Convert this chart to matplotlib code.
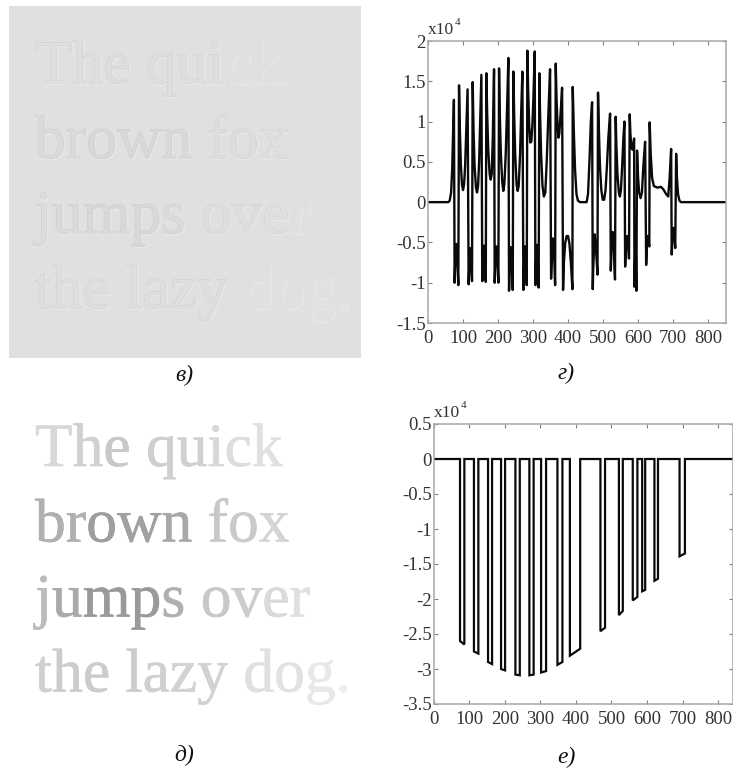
import matplotlib
matplotlib.use("Agg")
import matplotlib.pyplot as plt
import matplotlib.patheffects as pe
from matplotlib.font_manager import FontProperties

W, H = 733, 771
SERIF = ['Liberation Serif', 'DejaVu Serif']
plt.rcParams['font.family'] = SERIF

# ---------- data ----------
text_lines = ["The quick", "brown fox", "jumps over", "the lazy dog."]
shades = [
    ["#d8d8d8", "#d0d0d0", "#c8c8c8", "#ffffff", "#cfcfcf", "#d0d0d0", "#d8d8d8", "#dedede", "#e0e0e0"],
    ["#b0b0b0", "#b0b0b0", "#9e9e9e", "#a0a0a0", "#a8a8a8", "#ffffff", "#c8c8c8", "#cacaca", "#d4d4d4"],
    ["#bbbbbb", "#aaaaaa", "#9a9a9a", "#9a9a9a", "#b0b0b0", "#ffffff", "#c8c8c8", "#cccccc", "#dadada", "#e0e0e0"],
    ["#d0d0d0", "#cccccc", "#cccccc", "#ffffff", "#cccccc", "#d0d0d0", "#d2d2d2", "#d2d2d2", "#ffffff",
     "#e0e0e0", "#e2e2e2", "#e8e8e8", "#eeeeee"],
]

g_x = [0, 58, 62, 66, 69, 72, 74, 76, 77.5, 81, 84.5, 86.6, 88.6, 91, 94, 97, 100, 103, 106, 109,
       113, 116, 118, 121, 123.5, 125.7, 127.6, 130, 133, 137, 140, 143, 146, 149,
       152.4, 155, 157, 160, 163, 165, 166.7, 169, 172, 176, 179, 182, 185,
       188.6, 190.5, 192, 195.5, 199, 201, 202.9, 205, 208, 212, 215, 218, 222, 226,
       229.5, 231.4, 233, 236.5, 240, 242, 243.8, 246, 249, 253, 256, 259, 263, 266,
       269.5, 272.4, 274, 277, 280, 282, 283.8, 286, 289, 292, 295, 298, 301,
       304.8, 306.7, 308, 311, 314, 316, 318, 320, 323, 327, 331, 335, 339, 343,
       348.6, 351.5, 353, 357, 361, 363, 364.8, 367, 370, 372.5, 375, 378,
       382.9, 385.7, 388, 392, 396, 400, 404, 408, 412.4, 413.3, 417, 420, 424, 428, 434, 453,
       457, 461, 465, 468.6, 470.5, 472, 476, 480, 484, 485.5, 488, 491, 495, 499, 503, 507, 511, 515,
       520, 522, 524, 527.5, 531, 534, 536, 538, 541, 545, 548, 551, 555, 558,
       561, 563, 565, 568.5, 572, 574, 576, 578, 581, 584, 586, 588.6, 589.6, 592, 593.5, 595,
       597, 600, 603, 607, 611, 615, 620, 623, 625, 627, 630, 632, 633, 636, 640, 645, 655, 665, 672, 680, 686,
       690, 694.3, 696, 698, 701, 704, 706, 708.6, 711, 714, 718, 722, 850]
g_y = [0, 0, .02, .12, .4, .9, 1.27, -1.0, -.8, -.52, -.8, -1.03, 1.45, .9, .45, .22, .15, .22, .45, .85,
       1.40, -1.02, -.8, -.57, -.75, -.98, 1.49, .9, .45, .18, .12, .2, .5, 1.0,
       1.58, -.98, -.8, -.54, -.8, -.99, 1.6, 1.1, .65, .35, .28, .35, .8,
       1.65, -1.0, -.8, -.55, -.8, -1.0, 1.66, 1.1, .6, .25, .14, .22, .6, 1.2,
       1.79, -1.1, -.85, -.56, -.85, -1.09, 1.62, 1.1, .6, .22, .14, .2, .6, 1.1,
       1.62, -1.09, -.85, -.55, -.85, -1.03, 1.88, 1.4, .95, .74, .75, .95, 1.3,
       1.87, -1.03, -.8, -.53, -.8, -1.06, 1.6, 1.1, .6, .2, .07, .12, .5, 1.0,
       1.65, -.95, -.75, -.45, -.75, -1.03, 1.72, 1.3, .95, .8, .85, 1.05,
       1.42, -1.09, -.75, -.5, -.42, -.42, -.52, -.75, -1.08, 1.43, .8, .4, .1, .02, 0, 0,
       .1, .5, 1.0, 1.24, -1.08, -.8, -.4, -.6, -.9, 1.36, .9, .45, .15, .03, .03, .15, .45, .8,
       1.1, -.85, -.6, -.37, -.6, -.96, 1.06, .7, .35, .12, .07, .15, .5, .8,
       1.0, -.8, -.6, -.42, -.55, -.7, 1.09, .85, .68, .65, .7, .79, -1.05, -.6, -.6, -1.1,
       .64, .3, .12, .05, .12, .45, .75, -.78, -.55, -.42, -.5, -.55, .99, .6, .3, .2, .18, .19, .16, .1, .07,
       .3, .66, -.65, -.45, -.32, -.45, -.57, .6, .3, .1, .02, 0, 0]

e_fall = [73.8, 113, 152.7, 189.3, 229.7, 269, 302, 348, 383, 469, 521, 560, 586.5, 621, 691.7]
e_rise = [86, 125.4, 164, 200.6, 242, 281, 316, 362, 412, 482, 532, 573, 595, 631, 706.8]
e_start = [-2.6, -2.75, -2.9, -3.0, -3.08, -3.09, -3.05, -2.94, -2.81, -2.46, -2.23, -2.02, -1.89, -1.74, -1.39]
e_end = [-2.65, -2.78, -2.93, -3.02, -3.09, -3.08, -3.03, -2.9, -2.71, -2.41, -2.17, -1.97, -1.87, -1.71, -1.35]

g_yticks = [2, 1.5, 1, 0.5, 0, -0.5, -1, -1.5]
g_ylabels = ["2", "1.5", "1", "0.5", "0", "-0.5", "-1", "-1.5"]
e_yticks = [0.5, 0, -0.5, -1, -1.5, -2, -2.5, -3, -3.5]
e_ylabels = ["0.5", "0", "-0.5", "-1", "-1.5", "-2", "-2.5", "-3", "-3.5"]
xticks = [0, 100, 200, 300, 400, 500, 600, 700, 800]
captions = ["в)", "г)", "д)", "е)"]
# ---------- figure ----------
fig = plt.figure(figsize=(W / 100, H / 100), dpi=100, facecolor='white')
canvas_ax = fig.add_axes([0, 0, 1, 1])
canvas_ax.set_xlim(0, W)
canvas_ax.set_ylim(H, 0)
canvas_ax.axis('off')
renderer = fig.canvas.get_renderer()

FS = 44.3
fp = FontProperties(family=SERIF, size=FS)


def advance(s):
    w0 = renderer.get_text_width_height_descent('H', fp, False)[0]
    return renderer.get_text_width_height_descent('H' + s, fp, False)[0] - w0


def mix(c, bg, k):
    a = int(c[1:3], 16)
    b = int(bg[1:3], 16)
    v = int(round(b + (a - b) * k))
    return f"#{v:02x}{v:02x}{v:02x}"


def draw_lines(x0, baselines, embossed):
    for line, cols, yb in zip(text_lines, shades, baselines):
        for i, ch in enumerate(line):
            if ch == ' ':
                continue
            x = x0 + advance(line[:i])
            if embossed:
                bg = "#e0e0e0"
                fill = mix(cols[i], bg, 0.12)
                edge = mix(cols[i], bg, 0.22)
                if cols[i] <= "#dadada":
                    edge = mix(edge, "#c8c8c8", 0.35)
                t = canvas_ax.text(x, yb, ch, fontproperties=fp, color=fill, va='baseline', ha='left')
                t.set_path_effects([
                    pe.Stroke(linewidth=2.0, foreground="#e6e6e6", offset=(0.6, -0.6)),
                    pe.Stroke(linewidth=0.7, foreground=edge),
                    pe.Normal(),
                ])
            else:
                t = canvas_ax.text(x, yb, ch, fontproperties=fp, color=cols[i], va='baseline', ha='left')
                t.set_path_effects([pe.Stroke(linewidth=0.4, foreground=cols[i]), pe.Normal()])


canvas_ax.add_patch(plt.Rectangle((9, 6), 352, 352, facecolor="#e0e0e0", edgecolor='none'))
draw_lines(35, [83, 158, 233, 308], True)
draw_lines(35, [466, 541.5, 616.5, 691.5], False)

cap_pos = [(184, 375), (566, 373), (184, 755), (566, 757)]
for c, (cx, cy) in zip(captions, cap_pos):
    canvas_ax.text(cx, cy, c, fontsize=17, style='italic', color='#111111', ha='center', va='center')


def make_axes(l, t, r, b, xlim, ylim, yticks, ylabels, x_y, exp_x):
    ax = fig.add_axes([l / W, 1 - b / H, (r - l) / W, (b - t) / H])
    ax.set_xlim(*xlim)
    ax.set_ylim(*ylim)
    ax.set_xticks(xticks)
    ax.set_xticklabels([str(v) for v in xticks])
    ax.set_yticks(yticks)
    ax.set_yticklabels(ylabels)
    ax.tick_params(direction='in', top=True, right=True, length=3, width=0.8, color='#808080',
                   labelsize=13.5, labelcolor='#333333')
    ax.tick_params(axis='x', pad=5)
    ax.tick_params(axis='y', pad=1.5)
    for s in ax.spines.values():
        s.set_color('#a8a8a8')
        s.set_linewidth(1.1)
    canvas_ax.text(exp_x, x_y, "x10", fontsize=12.5, color='#333333', ha='left', va='baseline')
    canvas_ax.text(exp_x + 27, x_y - 9, "4", fontsize=8, color='#333333', ha='left', va='baseline')
    ax.patch.set_alpha(0)
    return ax


ax_g = make_axes(428, 41, 726, 323, (0, 851), (-1.5, 2), g_yticks, g_ylabels, 34, 428)
ax_g.plot(g_x, g_y, color='#0a0a0a', lw=1.7, solid_joinstyle='round')

ax_e = make_axes(433.8, 424, 732.6, 704, (0, 841), (-3.5, 0.5), e_yticks, e_ylabels, 417, 434)
e_x = [0]
e_y = [0]
for f, r, s, n in zip(e_fall, e_rise, e_start, e_end):
    e_x += [f, f, r, r]
    e_y += [0, s, n, 0]
e_x.append(841)
e_y.append(0)
ax_e.plot(e_x, e_y, color='#0a0a0a', lw=1.6, solid_joinstyle='miter')

fig.savefig('out.png', dpi=100)
